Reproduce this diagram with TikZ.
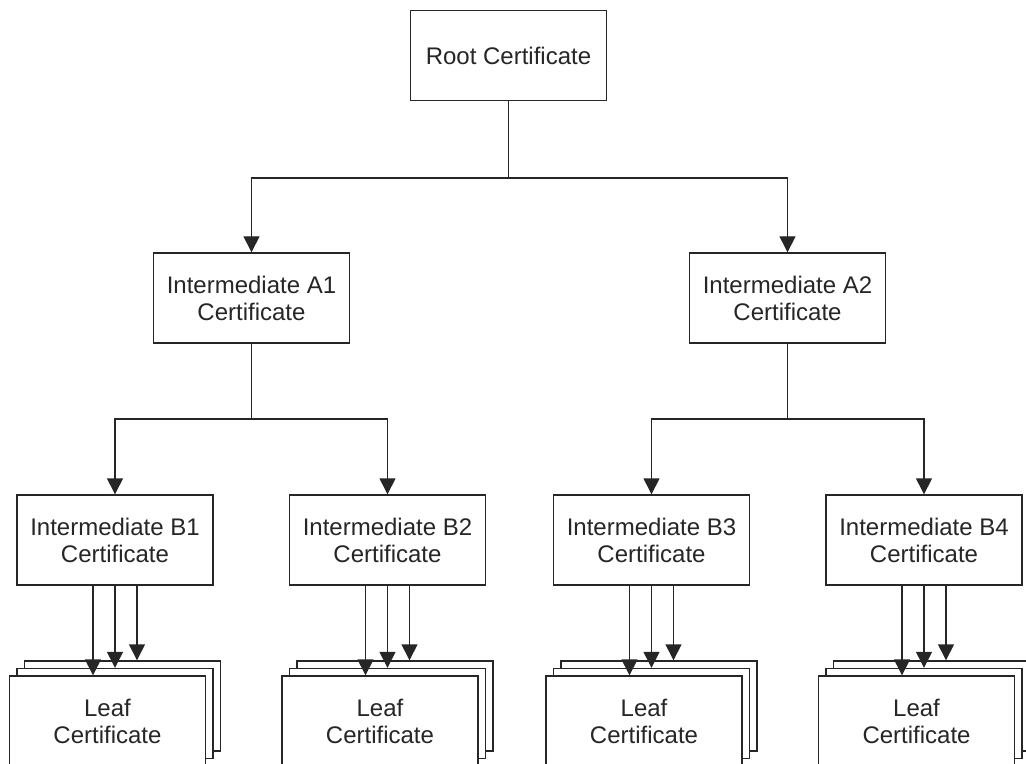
\documentclass[tikz,border=0pt]{standalone}
\usepackage{fontspec}
\setmainfont{Liberation Sans}
\usetikzlibrary{positioning,calc,arrows.meta}
\tikzset{font=\fontsize{12}{13.5}\selectfont}

\begin{document}
\begin{tikzpicture}[x=0.5pt, y=-0.5pt, line width=0.7pt]
	\tikzstyle{every node}=[align=center, inner sep=0pt]
	\tikzstyle{cert}=[draw=black!85, fill=white, text=black!85, minimum width=98pt, minimum height=45pt]
	\tikzstyle{arr}=[draw=black!85, -{Triangle[width=8pt, length=8pt]}]
	\clip (0, 0) rectangle (1026, 764);

	\node[cert] (root) at (508.5, 55.5) {Root Certificate};

	\node[cert] (a1) at (251.5, 298) {Intermediate A1\\Certificate};
	\node[cert] (a2) at (787.5, 298) {Intermediate A2\\Certificate};

	\node[cert] (b1) at (115, 540) {Intermediate B1\\Certificate};
	\node[cert] (b2) at (387.5, 540) {Intermediate B2\\Certificate};
	\node[cert] (b3) at (651.5, 540) {Intermediate B3\\Certificate};
	\node[cert] (b4) at (924, 540) {Intermediate B4\\Certificate};

	% leaf stacks, back to front
	\node[cert] (l1c) at (122.5, 706) {};
	\node[cert] (l1b) at (115, 713.5) {};
	\node[cert] (l1a) at (107.5, 721) {Leaf\\Certificate};
	\node[cert] (l2c) at (395, 706) {};
	\node[cert] (l2b) at (387.5, 713.5) {};
	\node[cert] (l2a) at (380, 721) {Leaf\\Certificate};
	\node[cert] (l3c) at (659, 706) {};
	\node[cert] (l3b) at (651.5, 713.5) {};
	\node[cert] (l3a) at (644, 721) {Leaf\\Certificate};
	\node[cert] (l4c) at (931.5, 706) {};
	\node[cert] (l4b) at (924, 713.5) {};
	\node[cert] (l4a) at (916.5, 721) {Leaf\\Certificate};

	\coordinate (rj) at (508.5, 178);
	\coordinate (aj1) at (251.5, 419);
	\coordinate (aj2) at (787.5, 419);

	\draw [draw=black!85] (root) to (rj);
	\draw [arr] (rj) -| (a1);
	\draw [arr] (rj) -| (a2);

	\draw [draw=black!85] (a1) to (aj1);
	\draw [arr] (aj1) -| (b1);
	\draw [arr] (aj1) -| (b2);
	\draw [draw=black!85] (a2) to (aj2);
	\draw [arr] (aj2) -| (b3);
	\draw [arr] (aj2) -| (b4);

	\draw [arr] ([xshift=-11pt]b1.south) to ([xshift=-11pt]b1.south |- l1a.north);
	\draw [arr] (b1.south) to (l1b.north);
	\draw [arr] ([xshift=11pt]b1.south) to ([xshift=11pt]b1.south |- l1c.north);
	\draw [arr] ([xshift=-11pt]b2.south) to ([xshift=-11pt]b2.south |- l2a.north);
	\draw [arr] (b2.south) to (l2b.north);
	\draw [arr] ([xshift=11pt]b2.south) to ([xshift=11pt]b2.south |- l2c.north);
	\draw [arr] ([xshift=-11pt]b3.south) to ([xshift=-11pt]b3.south |- l3a.north);
	\draw [arr] (b3.south) to (l3b.north);
	\draw [arr] ([xshift=11pt]b3.south) to ([xshift=11pt]b3.south |- l3c.north);
	\draw [arr] ([xshift=-11pt]b4.south) to ([xshift=-11pt]b4.south |- l4a.north);
	\draw [arr] (b4.south) to (l4b.north);
	\draw [arr] ([xshift=11pt]b4.south) to ([xshift=11pt]b4.south |- l4c.north);
\end{tikzpicture}
\end{document}
